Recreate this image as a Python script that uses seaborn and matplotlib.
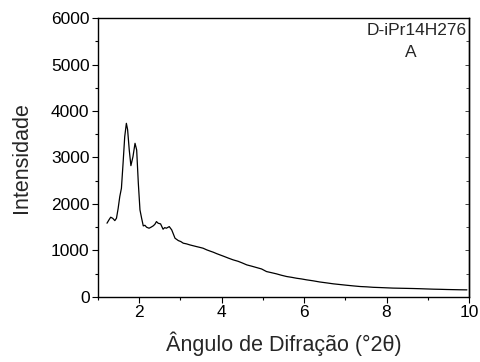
import matplotlib
matplotlib.use("Agg")
import matplotlib.pyplot as plt
import seaborn as sns
import pandas as pd
from matplotlib.ticker import MultipleLocator

sns.set_theme(style="ticks")
plt.rcParams["font.family"] = ["Liberation Sans", "DejaVu Sans"]

# Small-angle XRD pattern of sample D-iPr14H276
two_theta = [
    1.22, 1.27, 1.31, 1.36, 1.41, 1.45, 1.49, 1.53, 1.57, 1.61, 1.65, 1.69,
    1.72, 1.76, 1.80, 1.85, 1.90, 1.94, 1.98, 2.02, 2.06, 2.10, 2.14, 2.18,
    2.24, 2.29, 2.34, 2.38, 2.42, 2.46, 2.52, 2.58, 2.62, 2.66, 2.73, 2.79,
    2.87, 2.95, 3.01, 3.07, 3.15, 3.23, 3.31, 3.39, 3.47, 3.55, 3.64, 3.72,
    3.80, 3.88, 3.96, 4.06, 4.16, 4.28, 4.40, 4.50, 4.61, 4.73, 4.85, 4.97,
    5.09, 5.21, 5.33, 5.45, 5.58, 5.70, 5.82, 5.94, 6.06, 6.22, 6.38, 6.55,
    6.71, 6.87, 7.03, 7.20, 7.36, 7.52, 7.68, 7.84, 8.00, 8.16, 8.33, 8.49,
    8.65, 8.81, 8.97, 9.14, 9.30, 9.46, 9.62, 9.78, 9.95,
]
intensity = [
    1585, 1660, 1714, 1690, 1641, 1692, 1900, 2157, 2337, 2875, 3447, 3735,
    3600, 3161, 2824, 3017, 3305, 3161, 2445, 1871, 1692, 1527, 1540, 1499,
    1477, 1500, 1527, 1560, 1620, 1585, 1570, 1456, 1490, 1477, 1512, 1441,
    1262, 1211, 1190, 1155, 1140, 1118, 1100, 1082, 1065, 1047, 1011, 985,
    960, 930, 903, 870, 835, 796, 765, 730, 688, 660, 630, 600,
    544, 520, 495, 465, 437, 420, 400, 385, 366, 345, 320, 300,
    280, 265, 250, 235, 222, 215, 205, 200, 194, 188, 185, 182,
    179, 175, 170, 165, 162, 158, 155, 152, 150,
]
df = pd.DataFrame({"two_theta": two_theta, "intensity": intensity})

x_ticks = [2, 4, 6, 8, 10]
y_ticks = [0, 1000, 2000, 3000, 4000, 5000, 6000]

fig = plt.figure(figsize=(4.8, 3.62), dpi=100)
ax = fig.add_axes([0.204, 0.18, 0.773, 0.77])

sns.lineplot(data=df, x="two_theta", y="intensity", ax=ax,
             color="black", linewidth=0.9, sort=False)

ax.set_xlim(1, 10)
ax.set_ylim(0, 6000)
ax.set_xticks(x_ticks)
ax.set_yticks(y_ticks)
ax.xaxis.set_minor_locator(MultipleLocator(1))
ax.yaxis.set_minor_locator(MultipleLocator(500))

ax.tick_params(which="both", direction="out", top=False, right=False,
               labelsize=12.5, colors="black", width=0.8, pad=2)
ax.tick_params(which="major", length=4)
ax.tick_params(which="minor", length=2.5)

for side in ["top", "right", "bottom", "left"]:
    ax.spines[side].set_visible(True)
    ax.spines[side].set_color("black")
    ax.spines[side].set_linewidth(1.0)

# inward ticks on the mirrored right axis
ax_r = ax.secondary_yaxis("right")
ax_r.set_yticks(y_ticks)
ax_r.yaxis.set_minor_locator(MultipleLocator(500))
ax_r.tick_params(which="both", direction="in", labelright=False, width=0.6)
ax_r.tick_params(which="major", length=3)
ax_r.tick_params(which="minor", length=2)
ax_r.spines["right"].set_linewidth(1.0)

ax.set_xlabel("Ângulo de Difração (°2θ)", fontsize=15.5, labelpad=8)
ax.set_ylabel("Intensidade", fontsize=15.5, labelpad=14)

ax.text(0.995, 0.955, "D-iPr14H276", transform=ax.transAxes,
        ha="right", va="center", fontsize=12.5)
ax.text(0.843, 0.875, "A", transform=ax.transAxes,
        ha="center", va="center", fontsize=12.5)

fig.savefig("out.png", dpi=100)
